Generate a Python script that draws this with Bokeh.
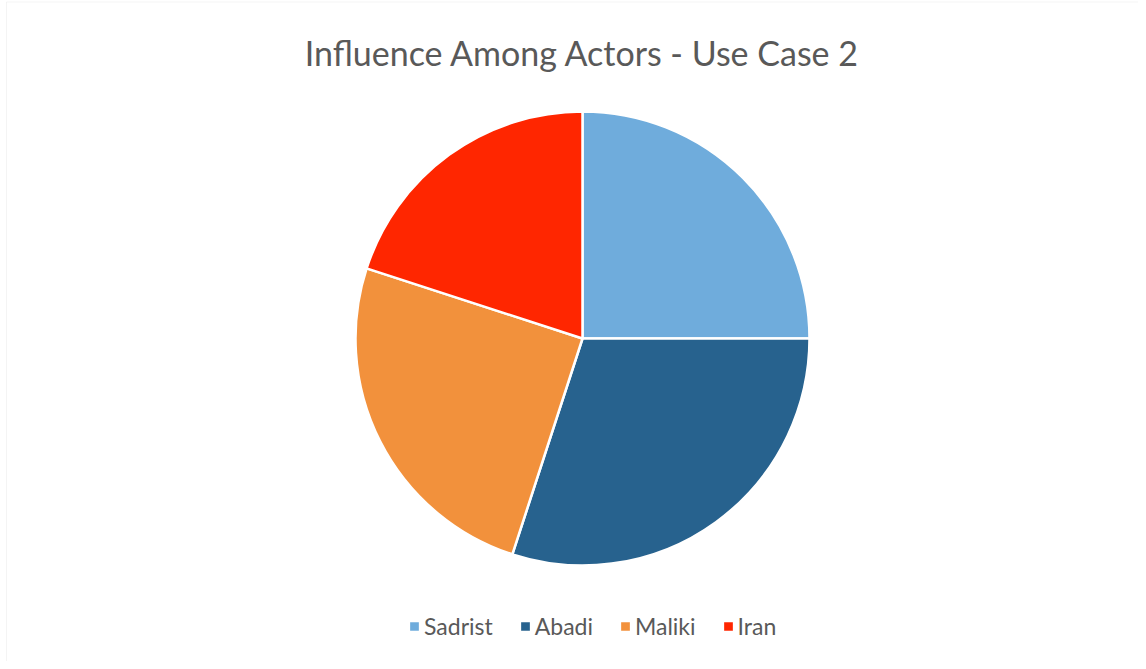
import math
from bokeh.plotting import figure
from bokeh.models import Range1d, Label, Legend, LegendItem, ColumnDataSource, BoxAnnotation
from bokeh.embed import file_html
from bokeh.resources import INLINE

title_text = "Influence Among Actors - Use Case 2"
actors = ["Sadrist", "Abadi", "Maliki", "Iran"]
influence = [25, 30, 25, 20]
colors = ["#6FACDC", "#27628E", "#F2913C", "#FF2600"]

W, H = 1138, 661
CX, CY, R = 582, H - 338, 227

total = sum(influence)
starts, ends = [], []
acc = 0.0
for v in influence:
    starts.append(math.pi / 2 - 2 * math.pi * acc / total)
    acc += v
    ends.append(math.pi / 2 - 2 * math.pi * acc / total)

src = ColumnDataSource(dict(actor=actors, value=influence, start=starts,
                            end=ends, color=colors))

p = figure(width=W, height=H, x_range=Range1d(0, W), y_range=Range1d(0, H),
           output_backend="svg", toolbar_location=None, min_border=0)
p.axis.visible = False
p.grid.visible = False
p.outline_line_color = None
p.background_fill_color = "white"
p.border_fill_color = "white"

p.add_layout(BoxAnnotation(left=6, right=W + 20, top=H - 1.5, bottom=-20,
                           fill_alpha=0, line_color="#D9D9D9", line_width=1))

r = p.wedge(x=CX, y=CY, radius=R, start_angle="start", end_angle="end",
            direction="clock", fill_color="color", line_color="white",
            line_width=2.5, source=src)

p.add_layout(Label(x=CX, y=H - 52, text=title_text, text_align="center",
                   text_baseline="middle", text_font="Lato",
                   text_font_size="34px", text_color="#595959"))

items = [LegendItem(label=a, renderers=[r], index=i) for i, a in enumerate(actors)]
legend = Legend(items=items, orientation="horizontal", location=(407, 21),
                glyph_width=14, glyph_height=14, label_standoff=3, spacing=25,
                padding=0, margin=0, border_line_color=None,
                background_fill_alpha=0, label_text_font="Lato",
                label_text_font_size="23px", label_text_color="#595959")
p.add_layout(legend)

open("out.html", "w").write(file_html(p, INLINE))
